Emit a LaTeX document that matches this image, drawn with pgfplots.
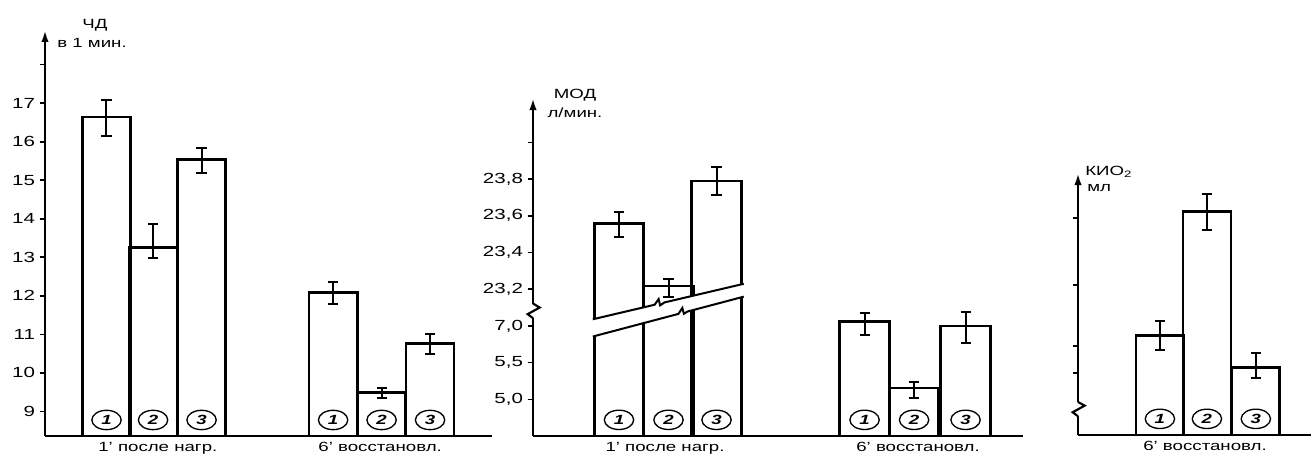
\documentclass[border=0pt]{standalone}
\usepackage{fontspec}
\setmainfont{Liberation Sans}[FakeStretch=1.4]
\usepackage{pgfplots}
\pgfplotsset{compat=1.18}
\usetikzlibrary{arrows.meta,shapes.geometric}

\pgfplotsset{
  myaxis/.style={
    scale only axis, clip=false, anchor=south west,
    axis x line=bottom, axis y line=left,
    x axis line style={-, line width=2.1pt},
    y axis line style={-{Latex[length=9pt,width=5.5pt]}, line width=2pt},
    tick align=outside,
    x tick style={draw=none},
    y tick style={line width=1.2pt, black},
    major tick length=4pt,
    yticklabel style={font=\fontsize{11}{13}\selectfont},
    xticklabel style={yshift=3pt, font=\fontsize{10}{12}\selectfont},
    /pgf/number format/assume math mode=true,
  },
  mybar/.style={ybar, bar width=1, bar shift=0pt, fill=white, draw=black, line width=2.1pt,
    error bars/.cd, y dir=both, y explicit,
    error bar style={line width=1.5pt},
    error mark options={rotate=90, mark size=3.8pt, line width=1.5pt}},
}
\tikzset{circ/.style={draw, ellipse, line width=1pt, inner sep=0pt, minimum width=22pt, minimum height=14.5pt,
    font=\fontsize{10}{11}\selectfont\bfseries\itshape, fill=white}}

% ChD, breaths per min (groups 1' and 6')
\pgfplotstableread{
x y ep em
1 16.64 0.44 0.50
1.97 13.26 0.61 0.29
2.98 15.54 0.30 0.35
5.72 12.08 0.27 0.30
6.73 9.48 0.12 0.13
7.74 10.77 0.23 0.29
}\chd
% MOD, in tick-step units of the broken axis (1=5,0 2=5,5 3=7,0 4=23,2 5=23,4 6=23,6 7=23,8)
\pgfplotstableread{
x y ep em
1 5.80 0.30 0.38
2 4.09 0.19 0.30
2.97 6.95 0.38 0.38
5.96 3.11 0.24 0.36
6.96 1.31 0.16 0.27
8.0 3.00 0.38 0.47
}\mod
% KIO2, ml (axis without numbers)
\pgfplotstableread{
x y ep em
1 2.72 0.39 0.40
1.98 6.08 0.49 0.49
3 1.85 0.38 0.30
}\kio

\begin{document}
\begin{tikzpicture}
\useasboundingbox (0,0) rectangle (983.25pt,340.5pt);

% ---------- left panel ----------
\begin{axis}[myaxis, at={(33.75pt,13.5pt)}, width=335.25pt, height=304.5pt,
  xmin=-0.281, xmax=9.03, ymin=8.36, ymax=18.9,
  ytick={9,10,11,12,13,14,15,16,17,18},
  yticklabels={9,10,11,12,13,14,15,16,17,{}},
  xtick={2.07,6.70}, xticklabels={{1' после нагр.},{6' восстановл.}}]
\addplot[mybar] table[x=x,y=y,y error plus=ep,y error minus=em] {\chd};
\foreach \xx/\nn in {1/1,1.97/2,2.98/3,5.72/1,6.73/2,7.74/3}{
  \edef\tmp{\noexpand\node[circ] at (axis cs:\xx,8.776) {\nn};}\tmp}
\end{axis}

% ---------- middle panel ----------
\begin{axis}[myaxis, at={(399.75pt,13.5pt)}, width=367.5pt, height=253.5pt,
  xmin=-0.737, xmax=9.16, ymin=0, ymax=9.21,
  ytick={1,2,3,4,5,6,7,8},
  yticklabels={{5,0},{5,5},{7,0},{23,2},{23,4},{23,6},{23,8},{}},
  xtick={1.93,7.04}, xticklabels={{1' после нагр.},{6' восстановл.}}]
\addplot[mybar] table[x=x,y=y,y error plus=ep,y error minus=em] {\mod};
% break across the bars
\fill[white] (axis cs:0.45,3.175) -- (axis cs:3.54,4.15) -- (axis cs:3.54,3.79) -- (axis cs:0.45,2.70) -- cycle;
\draw[line width=1.5pt] (axis cs:0.47,3.18) -- (axis cs:1.72,3.577) -- (axis cs:1.80,3.73) -- (axis cs:1.83,3.56) -- (axis cs:1.92,3.64) -- (axis cs:3.52,4.147);
\draw[line width=1.5pt] (axis cs:0.47,2.71) -- (axis cs:2.2,3.327) -- (axis cs:2.28,3.49) -- (axis cs:2.31,3.33) -- (axis cs:2.38,3.39) -- (axis cs:3.52,3.797);
% break on the axis
\fill[white] ([xshift=-2.5pt]axis cs:-0.737,3.22) rectangle ([xshift=2.5pt]axis cs:-0.737,3.60);
\draw[line width=1.6pt] (axis cs:-0.737,3.61) -- ([xshift=5pt]axis cs:-0.737,3.50) -- ([xshift=-4pt]axis cs:-0.737,3.32) -- (axis cs:-0.737,3.21);
\foreach \xx/\nn in {1/1,2/2,2.97/3,5.96/1,6.96/2,8.0/3}{
  \edef\tmp{\noexpand\node[circ] at (axis cs:\xx,0.44) {\nn};}\tmp}
\end{axis}

% ---------- right panel ----------
\begin{axis}[myaxis, at={(808.5pt,14.25pt)}, width=174.75pt, height=196.5pt,
  xmin=-0.708, xmax=4.15, ymin=0, ymax=7.14,
  ytick={1.69,2.43,4.09,5.91}, yticklabels={{},{},{},{}},
  xtick={1.94}, xticklabels={{6' восстановл.}}]
\addplot[mybar] table[x=x,y=y,y error plus=ep,y error minus=em] {\kio};
\fill[white] ([xshift=-2.5pt]axis cs:-0.708,0.52) rectangle ([xshift=2.5pt]axis cs:-0.708,0.89);
\draw[line width=1.6pt] (axis cs:-0.708,0.90) -- ([xshift=5pt]axis cs:-0.708,0.80) -- ([xshift=-4pt]axis cs:-0.708,0.62) -- (axis cs:-0.708,0.51);
\foreach \xx/\nn in {1/1,1.98/2,3/3}{
  \edef\tmp{\noexpand\node[circ] at (axis cs:\xx,0.44) {\nn};}\tmp}
\end{axis}

% ---------- axis titles (pixel coordinates of the picture) ----------
\begin{scope}[x=0.75pt,y=-0.75pt,yshift=340.5pt,font=\fontsize{10}{12}\selectfont]
\node at (95,25) {ЧД};
\node at (92,43) {в 1 мин.};
\node at (575,95) {МОД};
\node at (575,113) {л/мин.};
\node[anchor=west, inner sep=0pt] at (1085,172) {КИО\textsubscript{2}};
\node[anchor=west, inner sep=0pt] at (1087,188) {мл};
\end{scope}
\end{tikzpicture}
\end{document}
